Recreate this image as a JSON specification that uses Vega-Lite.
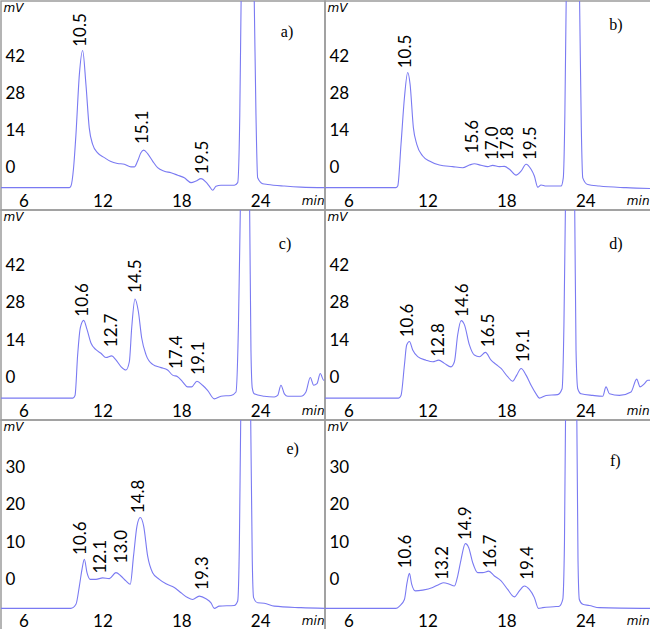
{
"$schema": "https://vega.github.io/schema/vega-lite/v6.json",
"padding": 0,
"background": "white",
"bounds": "flush",
"spacing": 0,
"columns": 2,
"datasets": {
"trace": [
{"p":"a","t":4.29,"v":-7.5},{"p":"a","t":9.49,"v":-7.5},{"p":"a","t":9.61,"v":-6.9},{"p":"a","t":9.81,"v":0},{"p":"a","t":9.99,"v":12.5},{"p":"a","t":10.25,"v":35.1},{"p":"a","t":10.5,"v":44.1},{"p":"a","t":10.75,"v":31.3},{"p":"a","t":11.0,"v":15.0},{"p":"a","t":11.26,"v":8.8},{"p":"a","t":11.64,"v":5.6},{"p":"a","t":12.15,"v":3.8},{"p":"a","t":12.65,"v":2.3},{"p":"a","t":13.16,"v":1.6},{"p":"a","t":13.67,"v":1.3},{"p":"a","t":14.17,"v":0.3},{"p":"a","t":14.43,"v":0.3},{"p":"a","t":14.68,"v":2.5},{"p":"a","t":14.93,"v":5.6},{"p":"a","t":15.14,"v":6.6},{"p":"a","t":15.44,"v":5.3},{"p":"a","t":15.82,"v":2.5},{"p":"a","t":16.2,"v":0},{"p":"a","t":16.71,"v":-1.3},{"p":"a","t":17.22,"v":-1.9},{"p":"a","t":17.72,"v":-2.8},{"p":"a","t":18.23,"v":-3.8},{"p":"a","t":18.74,"v":-5.6},{"p":"a","t":19.12,"v":-5.0},{"p":"a","t":19.5,"v":-4.1},{"p":"a","t":19.88,"v":-5.4},{"p":"a","t":20.13,"v":-6.9},{"p":"a","t":20.39,"v":-8.5},{"p":"a","t":20.64,"v":-7.0},{"p":"a","t":21.02,"v":-6.6},{"p":"a","t":22.03,"v":-6.6},{"p":"a","t":22.29,"v":-5.6},{"p":"a","t":22.45,"v":20},{"p":"a","t":22.55,"v":62.7},{"p":"a","t":23.05,"v":150},{"p":"a","t":23.55,"v":62.7},{"p":"a","t":23.68,"v":20},{"p":"a","t":23.81,"v":-3.8},{"p":"a","t":24.19,"v":-6.0},{"p":"a","t":24.57,"v":-6.3},{"p":"a","t":25.84,"v":-6.9},{"p":"a","t":27.1,"v":-7.3},{"p":"a","t":29.0,"v":-7.5},
{"p":"b","t":4.21,"v":-7.5},{"p":"b","t":9.6,"v":-7.5},{"p":"b","t":9.74,"v":-6.9},{"p":"b","t":9.99,"v":8.8},{"p":"b","t":10.25,"v":26.3},{"p":"b","t":10.5,"v":35.8},{"p":"b","t":10.68,"v":31.4},{"p":"b","t":10.93,"v":15.1},{"p":"b","t":11.19,"v":8.8},{"p":"b","t":11.64,"v":4.4},{"p":"b","t":12.15,"v":2.5},{"p":"b","t":12.91,"v":1.0},{"p":"b","t":13.92,"v":0.4},{"p":"b","t":14.68,"v":0},{"p":"b","t":15.19,"v":1.0},{"p":"b","t":15.57,"v":1.5},{"p":"b","t":16.08,"v":0.9},{"p":"b","t":16.58,"v":0.4},{"p":"b","t":16.96,"v":0.9},{"p":"b","t":17.47,"v":0.4},{"p":"b","t":17.85,"v":0.5},{"p":"b","t":18.24,"v":-0.6},{"p":"b","t":18.74,"v":-2.8},{"p":"b","t":19.12,"v":-1.3},{"p":"b","t":19.5,"v":1.3},{"p":"b","t":19.88,"v":-0.6},{"p":"b","t":20.13,"v":-3.1},{"p":"b","t":20.39,"v":-7.3},{"p":"b","t":20.64,"v":-6.5},{"p":"b","t":21.02,"v":-6.9},{"p":"b","t":22.16,"v":-6.9},{"p":"b","t":22.33,"v":-3.8},{"p":"b","t":22.45,"v":20},{"p":"b","t":22.55,"v":62.7},{"p":"b","t":23.05,"v":150},{"p":"b","t":23.57,"v":62.7},{"p":"b","t":23.7,"v":15},{"p":"b","t":23.81,"v":-3.8},{"p":"b","t":24.19,"v":-6.3},{"p":"b","t":25.07,"v":-6.9},{"p":"b","t":27.1,"v":-7.5},{"p":"b","t":29.0,"v":-7.8},
{"p":"c","t":4.29,"v":-7.7},{"p":"c","t":9.75,"v":-7.7},{"p":"c","t":9.92,"v":-6.7},{"p":"c","t":10.12,"v":8.5},{"p":"c","t":10.32,"v":18.6},{"p":"c","t":10.58,"v":21.4},{"p":"c","t":10.83,"v":18.0},{"p":"c","t":11.13,"v":12.9},{"p":"c","t":11.51,"v":10.4},{"p":"c","t":11.89,"v":9.1},{"p":"c","t":12.27,"v":7.5},{"p":"c","t":12.71,"v":8.1},{"p":"c","t":13.03,"v":6.6},{"p":"c","t":13.41,"v":4.1},{"p":"c","t":13.79,"v":2.8},{"p":"c","t":14.05,"v":5.9},{"p":"c","t":14.23,"v":18.6},{"p":"c","t":14.48,"v":29.4},{"p":"c","t":14.73,"v":24.9},{"p":"c","t":14.99,"v":14.8},{"p":"c","t":15.32,"v":8.5},{"p":"c","t":15.82,"v":4.9},{"p":"c","t":16.46,"v":3.7},{"p":"c","t":16.96,"v":2.8},{"p":"c","t":17.34,"v":0.9},{"p":"c","t":17.72,"v":0.3},{"p":"c","t":18.1,"v":-1.6},{"p":"c","t":18.48,"v":-3.5},{"p":"c","t":18.79,"v":-3.5},{"p":"c","t":19.19,"v":-1.4},{"p":"c","t":19.62,"v":-2.9},{"p":"c","t":20.0,"v":-4.8},{"p":"c","t":20.51,"v":-8.0},{"p":"c","t":21.02,"v":-7.0},{"p":"c","t":21.78,"v":-6.7},{"p":"c","t":22.16,"v":-5.4},{"p":"c","t":22.35,"v":20},{"p":"c","t":22.49,"v":62.7},{"p":"c","t":22.83,"v":140},{"p":"c","t":23.2,"v":62.7},{"p":"c","t":23.3,"v":10},{"p":"c","t":23.4,"v":-4},{"p":"c","t":23.55,"v":-6.1},{"p":"c","t":24.31,"v":-7.0},{"p":"c","t":25.07,"v":-7.3},{"p":"c","t":25.33,"v":-6.7},{"p":"c","t":25.58,"v":-2.9},{"p":"c","t":25.84,"v":-6.1},{"p":"c","t":26.1,"v":-7.0},{"p":"c","t":27.1,"v":-7.0},{"p":"c","t":27.48,"v":-5.4},{"p":"c","t":27.81,"v":0},{"p":"c","t":28.07,"v":-2.9},{"p":"c","t":28.32,"v":-2.3},{"p":"c","t":28.57,"v":1.5},{"p":"c","t":28.83,"v":-1.0},{"p":"c","t":29.0,"v":-0.5},
{"p":"d","t":4.21,"v":-7.7},{"p":"d","t":9.8,"v":-7.7},{"p":"d","t":9.99,"v":-6.7},{"p":"d","t":10.25,"v":4.7},{"p":"d","t":10.42,"v":12.2},{"p":"d","t":10.63,"v":13.5},{"p":"d","t":10.88,"v":10.3},{"p":"d","t":11.26,"v":7.8},{"p":"d","t":11.89,"v":6.5},{"p":"d","t":12.4,"v":5.9},{"p":"d","t":12.86,"v":6.5},{"p":"d","t":13.29,"v":5.3},{"p":"d","t":13.79,"v":4.0},{"p":"d","t":14.05,"v":5.9},{"p":"d","t":14.3,"v":16.0},{"p":"d","t":14.56,"v":21.3},{"p":"d","t":14.81,"v":19.8},{"p":"d","t":15.19,"v":12.2},{"p":"d","t":15.57,"v":8.4},{"p":"d","t":15.95,"v":7.8},{"p":"d","t":16.41,"v":9.4},{"p":"d","t":16.84,"v":6.5},{"p":"d","t":17.22,"v":4.9},{"p":"d","t":17.6,"v":3.4},{"p":"d","t":18.1,"v":0.3},{"p":"d","t":18.48,"v":-1.4},{"p":"d","t":18.79,"v":0.9},{"p":"d","t":19.12,"v":3.4},{"p":"d","t":19.5,"v":0.9},{"p":"d","t":19.88,"v":-2.9},{"p":"d","t":20.26,"v":-6.1},{"p":"d","t":20.51,"v":-7.7},{"p":"d","t":21.02,"v":-6.7},{"p":"d","t":21.9,"v":-6.4},{"p":"d","t":22.24,"v":-4.2},{"p":"d","t":22.38,"v":20},{"p":"d","t":22.49,"v":62.7},{"p":"d","t":22.83,"v":140},{"p":"d","t":23.2,"v":62.7},{"p":"d","t":23.3,"v":10},{"p":"d","t":23.43,"v":-4.2},{"p":"d","t":23.68,"v":-6.1},{"p":"d","t":24.57,"v":-6.7},{"p":"d","t":25.33,"v":-7.0},{"p":"d","t":25.58,"v":-3.5},{"p":"d","t":25.84,"v":-6.1},{"p":"d","t":26.6,"v":-6.7},{"p":"d","t":27.48,"v":-5.4},{"p":"d","t":27.91,"v":-0.6},{"p":"d","t":28.17,"v":-3.5},{"p":"d","t":28.5,"v":-2.3},{"p":"d","t":28.75,"v":-1.0},{"p":"d","t":29.0,"v":-1.0},
{"p":"e","t":4.29,"v":-7.8},{"p":"e","t":9.6,"v":-7.8},{"p":"e","t":9.99,"v":-6.7},{"p":"e","t":10.25,"v":-1.8},{"p":"e","t":10.45,"v":2.7},{"p":"e","t":10.63,"v":5.4},{"p":"e","t":10.83,"v":1.8},{"p":"e","t":11.08,"v":0},{"p":"e","t":11.51,"v":0},{"p":"e","t":12.02,"v":0.4},{"p":"e","t":12.53,"v":0.2},{"p":"e","t":13.03,"v":1.8},{"p":"e","t":13.41,"v":0.9},{"p":"e","t":13.79,"v":-0.4},{"p":"e","t":14.12,"v":-1.3},{"p":"e","t":14.37,"v":6.3},{"p":"e","t":14.63,"v":14.3},{"p":"e","t":14.88,"v":16.6},{"p":"e","t":15.14,"v":14.3},{"p":"e","t":15.44,"v":6.3},{"p":"e","t":15.82,"v":1.8},{"p":"e","t":16.33,"v":0},{"p":"e","t":16.84,"v":-1.2},{"p":"e","t":17.47,"v":-2.2},{"p":"e","t":17.98,"v":-3.6},{"p":"e","t":18.48,"v":-4.9},{"p":"e","t":18.86,"v":-5.4},{"p":"e","t":19.37,"v":-4.5},{"p":"e","t":19.88,"v":-5.2},{"p":"e","t":20.26,"v":-6.3},{"p":"e","t":20.51,"v":-7.8},{"p":"e","t":20.89,"v":-7.2},{"p":"e","t":22.03,"v":-7.0},{"p":"e","t":22.29,"v":-5.8},{"p":"e","t":22.42,"v":10},{"p":"e","t":22.52,"v":42.8},{"p":"e","t":22.9,"v":90},{"p":"e","t":23.28,"v":42.8},{"p":"e","t":23.4,"v":5},{"p":"e","t":23.5,"v":-4.9},{"p":"e","t":23.81,"v":-6.3},{"p":"e","t":24.31,"v":-6.4},{"p":"e","t":25.07,"v":-7.2},{"p":"e","t":27.1,"v":-7.6},{"p":"e","t":29.0,"v":-7.8},
{"p":"f","t":4.21,"v":-7.8},{"p":"f","t":9.6,"v":-7.8},{"p":"f","t":9.87,"v":-7.2},{"p":"f","t":10.25,"v":-5.4},{"p":"f","t":10.45,"v":-0.9},{"p":"f","t":10.63,"v":1.6},{"p":"f","t":10.8,"v":-1.3},{"p":"f","t":11.08,"v":-3.1},{"p":"f","t":11.64,"v":-2.9},{"p":"f","t":12.4,"v":-2.2},{"p":"f","t":12.91,"v":-1.3},{"p":"f","t":13.22,"v":-0.9},{"p":"f","t":13.67,"v":-1.3},{"p":"f","t":14.05,"v":-1.8},{"p":"f","t":14.3,"v":0.9},{"p":"f","t":14.56,"v":5.4},{"p":"f","t":14.88,"v":9.6},{"p":"f","t":15.14,"v":8.5},{"p":"f","t":15.44,"v":4.5},{"p":"f","t":15.82,"v":1.8},{"p":"f","t":16.2,"v":1.8},{"p":"f","t":16.66,"v":2.2},{"p":"f","t":17.09,"v":0.9},{"p":"f","t":17.6,"v":-0.4},{"p":"f","t":18.1,"v":-2.7},{"p":"f","t":18.61,"v":-4.7},{"p":"f","t":18.99,"v":-3.1},{"p":"f","t":19.37,"v":-1.8},{"p":"f","t":19.75,"v":-2.7},{"p":"f","t":20.13,"v":-4.9},{"p":"f","t":20.44,"v":-7.8},{"p":"f","t":20.77,"v":-7.6},{"p":"f","t":21.78,"v":-7.3},{"p":"f","t":22.03,"v":-7.2},{"p":"f","t":22.29,"v":-5.4},{"p":"f","t":22.42,"v":10},{"p":"f","t":22.5,"v":42.8},{"p":"f","t":22.93,"v":90},{"p":"f","t":23.36,"v":42.8},{"p":"f","t":23.45,"v":5},{"p":"f","t":23.55,"v":-5.4},{"p":"f","t":23.81,"v":-6.7},{"p":"f","t":24.31,"v":-7.0},{"p":"f","t":25.07,"v":-7.6},{"p":"f","t":29.0,"v":-7.8}
],
"peaks": [
{"p":"a","t":10.37,"v":45.1,"label":"10.5"},{"p":"a","t":15.06,"v":8.5,"label":"15.1"},{"p":"a","t":19.62,"v":-2.8,"label":"19.5"},
{"p":"b","t":10.37,"v":37.0,"label":"10.5"},{"p":"b","t":15.44,"v":5.0,"label":"15.6"},{"p":"b","t":16.96,"v":2.5,"label":"17.0"},{"p":"b","t":18.1,"v":2.5,"label":"17.8"},{"p":"b","t":19.88,"v":2.5,"label":"19.5"},
{"p":"c","t":10.5,"v":22.4,"label":"10.6"},{"p":"c","t":12.73,"v":11.0,"label":"12.7"},{"p":"c","t":14.56,"v":31.3,"label":"14.5"},{"p":"c","t":17.65,"v":2.8,"label":"17.4"},{"p":"c","t":19.37,"v":0.6,"label":"19.1"},
{"p":"d","t":10.5,"v":14.7,"label":"10.6"},{"p":"d","t":12.91,"v":7.4,"label":"12.8"},{"p":"d","t":14.68,"v":22.3,"label":"14.6"},{"p":"d","t":16.66,"v":11.0,"label":"16.5"},{"p":"d","t":19.37,"v":5.3,"label":"19.1"},
{"p":"e","t":10.37,"v":6.3,"label":"10.6"},{"p":"e","t":11.89,"v":1.3,"label":"12.1"},{"p":"e","t":13.46,"v":4.0,"label":"13.0"},{"p":"e","t":14.81,"v":17.5,"label":"14.8"},{"p":"e","t":19.62,"v":-3.1,"label":"19.3"},
{"p":"f","t":10.37,"v":2.7,"label":"10.6"},{"p":"f","t":13.21,"v":-0.4,"label":"13.2"},{"p":"f","t":14.94,"v":10.3,"label":"14.9"},{"p":"f","t":16.84,"v":2.7,"label":"16.7"},{"p":"f","t":19.62,"v":-0.4,"label":"19.4"}
],
"tags": [
{"p":"a","t":26.04,"v":51.0,"tag":"a)"},{"p":"b","t":26.34,"v":53.7,"tag":"b)"},{"p":"c","t":25.89,"v":50.0,"tag":"c)"},{"p":"d","t":26.34,"v":50.0,"tag":"d)"},{"p":"e","t":26.47,"v":35.0,"tag":"e)"},{"p":"f","t":26.29,"v":31.8,"tag":"f)"}
]
},
"concat": [
{"width": 324, "height": 209, "layer": [
{"data": {"name": "trace"}, "transform": [{"filter": "datum.p == 'a'"}], "mark": {"type": "line", "clip": true, "interpolate": "monotone", "color": "#7a7af2", "strokeWidth": 1.1},
 "encoding": {"x": {"field": "t", "type": "quantitative", "scale": {"domain": [4.29, 28.93], "nice": false, "zero": false}, "axis": {"values": [6,12,18,24], "title": "min", "titleX": 323}},
  "y": {"field": "v", "type": "quantitative", "scale": {"domain": [-15.9, 62.7], "nice": false, "zero": false}, "axis": {"values": [0,14,28,42], "title": "mV"}}}},
{"data": {"name": "peaks"}, "transform": [{"filter": "datum.p == 'a'"}], "mark": {"type": "text", "angle": 270, "align": "left", "baseline": "middle", "dx": 1, "font": "Lato", "fontSize": 17, "color": "#000"},
 "encoding": {"x": {"field": "t", "type": "quantitative"}, "y": {"field": "v", "type": "quantitative"}, "text": {"field": "label", "type": "nominal"}}},
{"data": {"name": "tags"}, "transform": [{"filter": "datum.p == 'a'"}], "mark": {"type": "text", "align": "center", "baseline": "middle", "font": "Liberation Serif", "fontSize": 16, "color": "#000"},
 "encoding": {"x": {"field": "t", "type": "quantitative"}, "y": {"field": "v", "type": "quantitative"}, "text": {"field": "tag", "type": "nominal"}}}
]},
{"width": 326, "height": 209, "layer": [
{"data": {"name": "trace"}, "transform": [{"filter": "datum.p == 'b'"}], "mark": {"type": "line", "clip": true, "interpolate": "monotone", "color": "#7a7af2", "strokeWidth": 1.1},
 "encoding": {"x": {"field": "t", "type": "quantitative", "scale": {"domain": [4.21, 29.0], "nice": false, "zero": false}, "axis": {"values": [6,12,18,24], "title": "min", "titleX": 324}},
  "y": {"field": "v", "type": "quantitative", "scale": {"domain": [-15.9, 62.7], "nice": false, "zero": false}, "axis": {"values": [0,14,28,42], "title": "mV"}}}},
{"data": {"name": "peaks"}, "transform": [{"filter": "datum.p == 'b'"}], "mark": {"type": "text", "angle": 270, "align": "left", "baseline": "middle", "dx": 1, "font": "Lato", "fontSize": 17, "color": "#000"},
 "encoding": {"x": {"field": "t", "type": "quantitative"}, "y": {"field": "v", "type": "quantitative"}, "text": {"field": "label", "type": "nominal"}}},
{"data": {"name": "tags"}, "transform": [{"filter": "datum.p == 'b'"}], "mark": {"type": "text", "align": "center", "baseline": "middle", "font": "Liberation Serif", "fontSize": 16, "color": "#000"},
 "encoding": {"x": {"field": "t", "type": "quantitative"}, "y": {"field": "v", "type": "quantitative"}, "text": {"field": "tag", "type": "nominal"}}}
]},
{"width": 324, "height": 210, "layer": [
{"data": {"name": "trace"}, "transform": [{"filter": "datum.p == 'c'"}], "mark": {"type": "line", "clip": true, "interpolate": "monotone", "color": "#7a7af2", "strokeWidth": 1.1},
 "encoding": {"x": {"field": "t", "type": "quantitative", "scale": {"domain": [4.29, 28.93], "nice": false, "zero": false}, "axis": {"values": [6,12,18,24], "title": "min", "titleX": 323}},
  "y": {"field": "v", "type": "quantitative", "scale": {"domain": [-15.9, 62.7], "nice": false, "zero": false}, "axis": {"values": [0,14,28,42], "title": "mV"}}}},
{"data": {"name": "peaks"}, "transform": [{"filter": "datum.p == 'c'"}], "mark": {"type": "text", "angle": 270, "align": "left", "baseline": "middle", "dx": 1, "font": "Lato", "fontSize": 17, "color": "#000"},
 "encoding": {"x": {"field": "t", "type": "quantitative"}, "y": {"field": "v", "type": "quantitative"}, "text": {"field": "label", "type": "nominal"}}},
{"data": {"name": "tags"}, "transform": [{"filter": "datum.p == 'c'"}], "mark": {"type": "text", "align": "center", "baseline": "middle", "font": "Liberation Serif", "fontSize": 16, "color": "#000"},
 "encoding": {"x": {"field": "t", "type": "quantitative"}, "y": {"field": "v", "type": "quantitative"}, "text": {"field": "tag", "type": "nominal"}}}
]},
{"width": 326, "height": 210, "layer": [
{"data": {"name": "trace"}, "transform": [{"filter": "datum.p == 'd'"}], "mark": {"type": "line", "clip": true, "interpolate": "monotone", "color": "#7a7af2", "strokeWidth": 1.1},
 "encoding": {"x": {"field": "t", "type": "quantitative", "scale": {"domain": [4.21, 29.0], "nice": false, "zero": false}, "axis": {"values": [6,12,18,24], "title": "min", "titleX": 324}},
  "y": {"field": "v", "type": "quantitative", "scale": {"domain": [-15.9, 62.7], "nice": false, "zero": false}, "axis": {"values": [0,14,28,42], "title": "mV"}}}},
{"data": {"name": "peaks"}, "transform": [{"filter": "datum.p == 'd'"}], "mark": {"type": "text", "angle": 270, "align": "left", "baseline": "middle", "dx": 1, "font": "Lato", "fontSize": 17, "color": "#000"},
 "encoding": {"x": {"field": "t", "type": "quantitative"}, "y": {"field": "v", "type": "quantitative"}, "text": {"field": "label", "type": "nominal"}}},
{"data": {"name": "tags"}, "transform": [{"filter": "datum.p == 'd'"}], "mark": {"type": "text", "align": "center", "baseline": "middle", "font": "Liberation Serif", "fontSize": 16, "color": "#000"},
 "encoding": {"x": {"field": "t", "type": "quantitative"}, "y": {"field": "v", "type": "quantitative"}, "text": {"field": "tag", "type": "nominal"}}}
]},
{"width": 324, "height": 210, "layer": [
{"data": {"name": "trace"}, "transform": [{"filter": "datum.p == 'e'"}], "mark": {"type": "line", "clip": true, "interpolate": "monotone", "color": "#7a7af2", "strokeWidth": 1.1},
 "encoding": {"x": {"field": "t", "type": "quantitative", "scale": {"domain": [4.29, 28.93], "nice": false, "zero": false}, "axis": {"values": [6,12,18,24], "title": "min", "titleX": 323}},
  "y": {"field": "v", "type": "quantitative", "scale": {"domain": [-13.6, 42.8], "nice": false, "zero": false}, "axis": {"values": [0,10,20,30], "title": "mV"}}}},
{"data": {"name": "peaks"}, "transform": [{"filter": "datum.p == 'e'"}], "mark": {"type": "text", "angle": 270, "align": "left", "baseline": "middle", "dx": 1, "font": "Lato", "fontSize": 17, "color": "#000"},
 "encoding": {"x": {"field": "t", "type": "quantitative"}, "y": {"field": "v", "type": "quantitative"}, "text": {"field": "label", "type": "nominal"}}},
{"data": {"name": "tags"}, "transform": [{"filter": "datum.p == 'e'"}], "mark": {"type": "text", "align": "center", "baseline": "middle", "font": "Liberation Serif", "fontSize": 16, "color": "#000"},
 "encoding": {"x": {"field": "t", "type": "quantitative"}, "y": {"field": "v", "type": "quantitative"}, "text": {"field": "tag", "type": "nominal"}}}
]},
{"width": 326, "height": 210, "layer": [
{"data": {"name": "trace"}, "transform": [{"filter": "datum.p == 'f'"}], "mark": {"type": "line", "clip": true, "interpolate": "monotone", "color": "#7a7af2", "strokeWidth": 1.1},
 "encoding": {"x": {"field": "t", "type": "quantitative", "scale": {"domain": [4.21, 29.0], "nice": false, "zero": false}, "axis": {"values": [6,12,18,24], "title": "min", "titleX": 324}},
  "y": {"field": "v", "type": "quantitative", "scale": {"domain": [-13.6, 42.8], "nice": false, "zero": false}, "axis": {"values": [0,10,20,30], "title": "mV"}}}},
{"data": {"name": "peaks"}, "transform": [{"filter": "datum.p == 'f'"}], "mark": {"type": "text", "angle": 270, "align": "left", "baseline": "middle", "dx": 1, "font": "Lato", "fontSize": 17, "color": "#000"},
 "encoding": {"x": {"field": "t", "type": "quantitative"}, "y": {"field": "v", "type": "quantitative"}, "text": {"field": "label", "type": "nominal"}}},
{"data": {"name": "tags"}, "transform": [{"filter": "datum.p == 'f'"}], "mark": {"type": "text", "align": "center", "baseline": "middle", "font": "Liberation Serif", "fontSize": 16, "color": "#000"},
 "encoding": {"x": {"field": "t", "type": "quantitative"}, "y": {"field": "v", "type": "quantitative"}, "text": {"field": "tag", "type": "nominal"}}}
]}
],
"config": {
"view": {"stroke": "#9c9c9c", "strokeWidth": 1.5},
"concat": {"spacing": 0},
"axis": {"grid": false, "domain": false, "ticks": false, "labelPadding": -4, "labelFont": "Lato", "labelFontSize": 17, "labelColor": "#000", "labelFlush": false, "labelOverlap": false, "titleFont": "DejaVu Sans", "titleFontSize": 12, "titleFontStyle": "italic", "titleFontWeight": "normal", "titleColor": "#000", "titleAngle": 0},
"axisX": {"labelBaseline": "alphabetic", "titleAlign": "right", "titleBaseline": "alphabetic", "titleY": -6},
"axisY": {"labelAlign": "left", "labelBaseline": "middle", "titleAlign": "left", "titleBaseline": "top", "titleX": 2, "titleY": 1}
}
}
